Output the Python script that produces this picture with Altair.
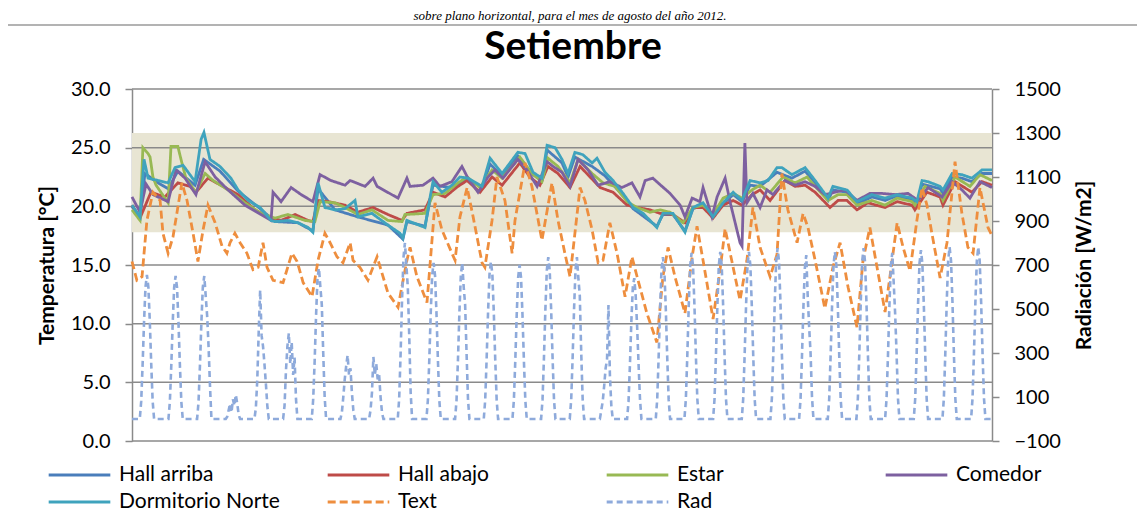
import altair as alt
import pandas as pd

# ---------------- data ----------------
series = ["Hall arriba", "Hall abajo", "Estar", "Comedor", "Dormitorio Norte", "Text", "Rad"]
colors = ["#4A7EBB", "#BE4B48", "#98B954", "#7D60A0", "#3FA3BD", "#EE8E3E", "#8EAADB"]
dash_patterns = [[1, 0], [1, 0], [1, 0], [1, 0], [1, 0], [8, 4], [6, 4]]

title_text = ["Setiembre"]
caption_text = ["sobre plano horizontal, para el mes de agosto del año 2012."]

temp_ticks = [0, 5, 10, 15, 20, 25, 30]
rad_ticks = [-100, 100, 300, 500, 700, 900, 1100, 1300, 1500]

band_low = [17.8]
band_high = [26.25]
band_start = [0]
band_end = [30]

# time in days since 1 September 00:00
blue_t = [0, 0.28, 0.45, 0.91, 1.26, 1.60, 2.20, 2.50, 3.07, 3.70, 4.47, 4.99, 5.79, 6.31, 6.49, 7.08, 7.88, 8.93, 9.45, 9.59,
          10.22, 10.50, 11.16, 11.69, 12.21, 12.49, 12.91, 13.46, 13.99, 14.30, 14.48, 15.00, 15.21, 15.45, 16.05, 16.50, 17.13, 17.48, 18.31, 18.52,
          18.87, 19.29, 19.57, 19.92, 20.27, 20.62, 20.97, 21.28, 21.56, 21.91, 22.50, 23.02, 23.48, 23.83, 24.28, 24.45, 24.94, 25.29, 25.81, 26.27,
          26.69, 27.21, 27.38, 27.56, 28.19, 28.29, 28.61, 28.95, 29.30, 29.65, 30.0]
blue_v = [20.0, 19.0, 22.8, 22.0, 21.5, 23.0, 21.8, 24.0, 23.0, 21.3, 19.8, 18.7, 18.6, 17.9, 21.5, 19.7, 19.1, 18.4, 17.2, 18.7,
          18.3, 21.8, 21.6, 22.3, 21.6, 23.6, 22.6, 24.3, 22.7, 22.2, 24.8, 23.7, 22.5, 24.2, 23.4, 22.6, 20.9, 19.8, 18.3, 19.3,
          19.3, 17.9, 19.8, 20.1, 19.1, 20.2, 21.0, 20.4, 21.8, 21.7, 22.9, 22.4, 23.0, 22.0, 20.5, 21.4, 21.2, 20.2, 20.8, 20.5,
          20.9, 20.5, 20.2, 21.9, 21.5, 21.1, 22.5, 22.4, 22.1, 22.8, 22.8]

red_t = [0, 0.28, 0.66, 1.15, 1.60, 2.02, 2.23, 2.65, 3.10, 3.70, 4.29, 4.74, 5.20, 5.69, 6.14, 6.31, 6.49, 6.84, 7.43, 7.88,
         8.41, 8.93, 9.42, 9.59, 10.22, 10.50, 10.92, 11.37, 11.69, 12.14, 12.56, 12.91, 13.53, 13.88, 14.23, 14.51, 14.86, 15.28, 15.63, 15.98,
         16.33, 16.78, 17.27, 17.62, 18.07, 18.42, 18.87, 19.29, 19.57, 19.92, 20.27, 20.62, 20.97, 21.28, 21.63, 21.91, 22.26, 22.78, 23.13, 23.48,
         23.83, 24.35, 24.63, 24.94, 25.29, 25.67, 26.27, 26.69, 27.21, 27.31, 27.73, 28.19, 28.29, 28.71, 29.30, 29.65, 30.0]
red_v = [20.1, 19.0, 21.2, 20.8, 22.0, 21.7, 21.2, 22.4, 21.8, 21.0, 19.7, 19.1, 18.8, 19.3, 18.8, 18.7, 20.5, 20.4, 20.1, 19.5,
         19.9, 19.3, 18.8, 19.4, 19.7, 21.2, 20.8, 21.7, 22.2, 21.2, 22.5, 21.8, 23.7, 22.5, 21.8, 23.4, 22.8, 21.6, 23.4, 22.5,
         21.6, 21.2, 20.1, 19.9, 19.7, 19.4, 19.3, 18.6, 19.9, 19.9, 19.0, 20.1, 20.5, 20.1, 21.0, 21.4, 20.5, 22.2, 21.7, 21.8,
         21.2, 19.9, 20.5, 20.5, 19.7, 20.3, 19.9, 20.4, 20.1, 19.7, 21.2, 20.8, 20.1, 22.1, 21.2, 22.1, 21.8]

green_t = [0, 0.28, 0.38, 0.56, 0.63, 0.73, 0.84, 1.26, 1.36, 1.60, 1.71, 1.88, 2.23, 2.55, 2.83, 3.35, 3.94, 4.50, 4.99, 5.44,
           6.03, 6.38, 6.56, 7.08, 7.43, 7.88, 8.37, 8.93, 9.42, 9.52, 10.22, 10.50, 10.92, 11.37, 11.69, 12.14, 12.56, 12.91, 13.53, 13.95,
           14.30, 14.51, 14.86, 15.28, 15.56, 16.05, 16.43, 16.85, 17.27, 17.62, 18.07, 18.42, 18.77, 19.22, 19.57, 19.92, 20.27, 20.62, 20.97, 21.28,
           21.63, 21.91, 22.26, 22.71, 23.13, 23.55, 23.83, 24.28, 24.63, 24.94, 25.29, 25.81, 26.27, 26.69, 27.21, 27.31, 27.66, 28.19, 28.29, 28.71,
           29.23, 29.58, 30.0]
green_v = [19.7, 18.8, 25.0, 24.5, 24.2, 22.5, 21.8, 20.3, 25.1, 25.1, 24.0, 22.4, 21.2, 22.8, 22.2, 21.4, 20.3, 19.4, 19.0, 19.3,
           18.8, 18.7, 20.4, 20.3, 19.9, 19.3, 19.7, 18.8, 18.7, 19.3, 19.4, 21.0, 21.1, 22.0, 22.5, 21.6, 23.1, 22.4, 24.2, 22.8,
           22.1, 24.1, 23.4, 22.0, 24.0, 22.8, 22.0, 21.7, 20.4, 19.9, 19.5, 19.7, 19.5, 18.6, 19.9, 20.1, 19.3, 20.7, 21.1, 20.7,
           21.4, 21.8, 21.2, 22.5, 22.0, 22.5, 21.7, 20.5, 21.0, 21.0, 20.1, 20.5, 20.1, 20.7, 20.4, 20.1, 21.7, 21.1, 20.5, 22.5,
           21.7, 22.7, 22.2]

purple_t = [0, 0.28, 0.49, 0.73, 1.26, 1.53, 1.85, 2.23, 2.55, 2.90, 3.35, 3.94, 4.50, 4.85, 4.92, 5.20, 5.55, 5.90, 6.31, 6.56,
            6.94, 7.43, 7.61, 8.13, 8.41, 8.55, 9.28, 9.59, 9.70, 10.15, 10.50, 10.74, 11.16, 11.51, 11.72, 12.07, 12.42, 12.66, 12.94, 13.46,
            13.78, 14.13, 14.48, 14.69, 15.00, 15.28, 15.56, 15.91, 16.26, 16.67, 17.09, 17.44, 17.72, 17.90, 18.17, 18.49, 18.77, 19.12, 19.29, 19.54,
            19.81, 19.92, 20.23, 20.41, 20.69, 20.87, 21.21, 21.28, 21.38, 21.45, 21.66, 21.91, 22.15, 22.36, 22.60, 22.78, 23.13, 23.48, 23.83, 24.17,
            24.52, 24.87, 25.29, 25.74, 26.16, 26.62, 27.07, 27.42, 27.77, 28.26, 28.61, 28.95, 29.23, 29.58, 30.0]
purple_v = [20.8, 19.5, 21.9, 21.0, 20.4, 23.1, 22.4, 21.0, 23.8, 22.5, 21.4, 20.1, 19.3, 18.8, 21.2, 20.4, 21.6, 21.0, 20.4, 22.7,
            22.2, 21.8, 22.2, 21.7, 22.4, 21.7, 20.7, 22.4, 21.7, 21.8, 22.4, 21.7, 22.1, 23.4, 22.4, 21.2, 22.5, 23.1, 22.4, 24.0,
            23.1, 21.7, 23.8, 23.4, 22.9, 21.7, 24.0, 23.1, 21.8, 22.1, 21.6, 22.0, 20.8, 22.2, 22.4, 21.7, 21.1, 20.1, 19.1, 20.7,
            20.4, 21.6, 19.1, 20.8, 22.4, 20.3, 16.9, 16.6, 25.4, 20.3, 21.1, 19.9, 21.4, 21.0, 21.7, 22.2, 21.8, 22.1, 21.7, 21.0,
            21.2, 21.4, 20.5, 21.1, 21.1, 21.0, 21.1, 20.5, 21.6, 20.8, 22.1, 21.4, 20.7, 22.1, 21.6]

teal_t = [0, 0.28, 0.42, 0.56, 0.91, 1.26, 1.50, 1.78, 2.20, 2.41, 2.51, 2.72, 3.07, 3.45, 3.70, 4.05, 4.47, 4.64, 4.85, 4.99,
          5.44, 5.79, 6.14, 6.31, 6.49, 6.73, 7.08, 7.43, 7.78, 7.88, 8.37, 8.93, 9.35, 9.45, 9.59, 10.22, 10.40, 10.50, 10.81, 11.16,
          11.44, 11.72, 12.21, 12.49, 12.91, 13.46, 13.71, 13.99, 14.30, 14.48, 14.76, 15.00, 15.21, 15.45, 15.73, 16.05, 16.22, 16.50, 16.78, 17.13,
          17.48, 17.83, 18.31, 18.52, 18.87, 19.29, 19.57, 19.92, 20.27, 20.62, 20.97, 21.28, 21.56, 21.91, 22.19, 22.50, 22.67, 23.02, 23.48, 23.83,
          24.28, 24.45, 24.94, 25.29, 25.81, 26.27, 26.69, 27.21, 27.38, 27.56, 27.77, 28.19, 28.29, 28.61, 28.95, 29.30, 29.65, 30.0]
teal_v = [20.1, 19.1, 24.0, 22.4, 22.2, 22.0, 23.3, 23.5, 22.1, 25.7, 26.3, 24.0, 23.4, 22.4, 21.4, 20.5, 19.9, 19.4, 18.8, 18.7,
          18.8, 18.6, 18.2, 17.8, 22.0, 19.9, 19.7, 19.8, 20.5, 19.1, 19.4, 18.4, 17.7, 17.3, 18.8, 18.2, 20.8, 22.1, 21.2, 21.8,
          22.5, 22.4, 21.7, 24.1, 22.8, 24.6, 24.5, 22.9, 22.4, 25.2, 25.0, 24.0, 22.8, 24.6, 24.4, 23.7, 24.1, 22.9, 22.2, 21.1,
          19.9, 19.4, 18.2, 19.4, 19.4, 17.8, 19.9, 20.3, 19.1, 20.3, 21.2, 20.5, 22.2, 22.0, 22.2, 23.3, 23.3, 22.7, 23.3, 22.2,
          20.7, 21.7, 21.4, 20.4, 21.0, 20.7, 21.0, 20.7, 20.4, 22.2, 22.1, 21.7, 21.4, 22.8, 22.7, 22.4, 23.1, 23.1]

text_t = [0, 0.17, 0.35, 0.52, 0.73, 0.98, 1.08, 1.26, 1.43, 1.74, 1.92, 2.13, 2.30, 2.48, 2.65, 2.90, 3.14, 3.31, 3.42, 3.59,
          3.77, 4.01, 4.22, 4.40, 4.57, 4.71, 4.92, 5.27, 5.58, 5.76, 5.97, 6.28, 6.49, 6.73, 6.91, 7.15, 7.36, 7.61, 7.71, 7.95,
          8.23, 8.55, 8.93, 9.28, 9.59, 9.70, 9.94, 10.29, 10.57, 10.81, 11.16, 11.27, 11.44, 11.69, 11.90, 12.21, 12.31, 12.56, 12.73, 13.01,
          13.26, 13.36, 13.71, 13.95, 14.30, 14.65, 14.86, 15.10, 15.28, 15.63, 15.80, 16.05, 16.26, 16.43, 16.67, 16.92, 17.20, 17.44, 17.62, 17.96,
          18.31, 18.52, 18.70, 18.94, 19.29, 19.54, 19.71, 19.92, 20.27, 20.51, 20.69, 20.97, 21.21, 21.45, 21.66, 21.91, 22.26, 22.50, 22.67, 22.88,
          23.20, 23.41, 23.58, 23.83, 24.17, 24.45, 24.70, 24.98, 25.29, 25.50, 25.74, 25.99, 26.27, 26.44, 26.69, 26.90, 27.14, 27.38, 27.56, 27.73,
          27.91, 28.19, 28.43, 28.71, 28.95, 29.16, 29.34, 29.58, 29.86, 30.0]
text_v = [15.3, 13.7, 14.0, 18.8, 21.2, 20.5, 17.7, 16.0, 17.4, 22.0, 20.5, 17.7, 15.3, 18.0, 20.1, 18.6, 16.6, 16.0, 16.9, 17.7,
          16.9, 16.0, 14.6, 14.8, 16.9, 14.8, 13.7, 13.5, 16.0, 15.3, 13.5, 12.3, 15.4, 17.7, 16.9, 15.7, 15.2, 16.9, 15.4, 14.8,
          13.7, 15.7, 12.6, 11.4, 15.4, 16.5, 14.0, 11.8, 20.3, 18.0, 16.0, 15.4, 19.1, 21.6, 19.1, 15.2, 14.8, 18.8, 22.5, 20.5,
          16.0, 18.8, 23.7, 21.7, 17.1, 22.0, 18.8, 16.0, 14.0, 21.6, 20.5, 18.0, 15.2, 15.4, 18.6, 16.0, 12.3, 15.7, 14.0, 10.9,
          8.4, 14.0, 16.5, 14.0, 10.9, 15.7, 18.3, 15.4, 10.4, 14.5, 18.1, 14.8, 12.0, 15.4, 19.9, 16.5, 14.0, 15.9, 22.8, 19.7,
          16.9, 19.4, 18.2, 15.4, 11.3, 14.8, 16.9, 13.1, 9.7, 15.4, 18.2, 14.8, 11.0, 14.0, 18.6, 16.5, 14.5, 18.8, 21.6, 20.1,
          17.6, 13.9, 16.9, 23.8, 19.4, 16.5, 16.0, 21.6, 18.2, 17.5]

# solar radiation (W/m2): hours of each daily reading, one list per day
rad_hours = [6.5, 7.7, 8.9, 10.1, 11.3, 12.5, 13.7, 14.9, 16.1, 17.3, 18.5]
rad_days = [
    [0, 80, 250, 445, 600, 655, 600, 445, 250, 80, 0],
    [0, 78, 245, 440, 598, 650, 598, 440, 245, 78, 0],
    [0, 78, 245, 440, 600, 650, 560, 470, 330, 150, 0],
    [0, 10, 40, 70, 30, 90, 60, 110, 70, 20, 0],
    [0, 50, 180, 400, 586, 380, 330, 250, 160, 60, 0],
    [0, 60, 220, 330, 390, 250, 350, 200, 280, 90, 0],
    [0, 90, 260, 470, 640, 686, 600, 520, 300, 100, 0],
    [0, 30, 100, 180, 240, 290, 200, 230, 120, 40, 0],
    [0, 40, 120, 282, 200, 250, 180, 200, 100, 30, 0],
    [0, 95, 300, 545, 735, 800, 700, 600, 380, 120, 0],
    [0, 85, 270, 483, 653, 710, 653, 483, 270, 85, 0],
    [0, 85, 270, 483, 653, 710, 600, 520, 300, 90, 0],
    [0, 86, 272, 486, 658, 715, 658, 486, 272, 86, 0],
    [0, 84, 266, 476, 644, 700, 644, 476, 266, 84, 0],
    [0, 88, 280, 500, 677, 736, 677, 500, 280, 88, 0],
    [0, 88, 280, 500, 677, 736, 640, 560, 300, 90, 0],
    [0, 0, 40, 80, 150, 230, 270, 518, 200, 60, 0],
    [0, 80, 250, 450, 600, 640, 560, 420, 250, 90, 0],
    [0, 88, 280, 500, 677, 736, 677, 500, 280, 88, 0],
    [0, 91, 287, 513, 695, 755, 695, 513, 287, 91, 0],
    [0, 91, 289, 517, 699, 760, 699, 517, 289, 91, 0],
    [0, 91, 289, 517, 699, 760, 699, 517, 289, 91, 0],
    [0, 93, 295, 528, 715, 777, 715, 528, 295, 93, 0],
    [0, 89, 283, 507, 685, 745, 560, 420, 300, 100, 0],
    [0, 91, 289, 517, 699, 760, 699, 517, 289, 91, 0],
    [0, 93, 295, 528, 715, 777, 715, 528, 295, 93, 0],
    [0, 91, 287, 513, 695, 755, 620, 480, 300, 91, 0],
    [0, 92, 292, 522, 707, 768, 707, 522, 292, 92, 0],
    [0, 94, 297, 532, 719, 782, 719, 532, 297, 94, 0],
    [0, 94, 297, 532, 719, 782, 719, 532, 297, 94, 0],
]
rad_start = [0.0, 0]   # (day, value) at the start of the month
rad_end = [30.0, 0]    # (day, value) at the end of the month

# ---------------- tables ----------------
temp_rows = []
for name, ts, vs in [("Hall arriba", blue_t, blue_v), ("Hall abajo", red_t, red_v),
                     ("Estar", green_t, green_v), ("Comedor", purple_t, purple_v),
                     ("Dormitorio Norte", teal_t, teal_v), ("Text", text_t, text_v)]:
    assert len(ts) == len(vs), (name, len(ts), len(vs))
    for t, v in zip(ts, vs):
        temp_rows.append({"t": t, "v": v, "serie": name})
temp_df = pd.DataFrame(temp_rows)

rad_rows = [{"t": rad_start[0], "v": rad_start[1], "serie": "Rad"}]
for d, vals in enumerate(rad_days):
    assert len(vals) == len(rad_hours)
    for h, v in zip(rad_hours, vals):
        rad_rows.append({"t": d + h / 24.0, "v": v, "serie": "Rad"})
rad_rows.append({"t": rad_end[0], "v": rad_end[1], "serie": "Rad"})
rad_df = pd.DataFrame(rad_rows)

band_df = pd.DataFrame({"t0": band_start, "t1": band_end, "lo": band_low, "hi": band_high})
grid_df = pd.DataFrame({"g": temp_ticks})
title_df = pd.DataFrame({"txt": title_text})
caption_df = pd.DataFrame({"txt": caption_text})

# ---------------- encodings ----------------
FONT = "Lato"
GREY = "#8A8A8A"
W, H = 860, 352

x_scale = alt.Scale(domain=[0, 30], nice=False, zero=False)
yT_scale = alt.Scale(domain=[0, 30], nice=False, zero=False)
yR_scale = alt.Scale(domain=[-100, 1500], nice=False, zero=False)

yT_axis = alt.Axis(title="Temperatura [°C]", values=temp_ticks, format=".1f", grid=False,
                   domainColor=GREY, domainWidth=1.5, tickColor=GREY, tickWidth=1.5, tickSize=7,
                   labelFont=FONT, labelFontSize=20, labelColor="black", labelPadding=15,
                   titleFont=FONT, titleFontSize=21, titleFontWeight="bold", titleColor="black",
                   titleX=-85, titleY=H / 2, titleAlign="center", titleBaseline="middle", titleAngle=270)
yR_axis = alt.Axis(title="Radiación [W/m2]", orient="right", values=rad_ticks, format="d", grid=False,
                   domainColor=GREY, domainWidth=1.5, tickColor=GREY, tickWidth=1.5, tickSize=7,
                   labelFont=FONT, labelFontSize=20, labelColor="black", labelPadding=15,
                   titleFont=FONT, titleFontSize=21, titleFontWeight="bold", titleColor="black",
                   titleX=92, titleY=H / 2, titleAlign="center", titleBaseline="middle", titleAngle=270)

legend = alt.Legend(title=None, orient="none", legendX=-85, legendY=375, direction="horizontal",
                    columns=4, symbolType="stroke", symbolSize=3800, symbolStrokeWidth=3,
                    labelFont=FONT, labelFontSize=21, labelColor="black", labelOffset=7,
                    clipHeight=22, rowPadding=5, columnPadding=46, gridAlign="all", labelLimit=400)

color_enc = alt.Color("serie:N", scale=alt.Scale(domain=series, range=colors), legend=legend)
dash_enc = alt.StrokeDash("serie:N", scale=alt.Scale(domain=series, range=dash_patterns), legend=legend)

band = alt.Chart(band_df).mark_rect(color="#E8E5D3").encode(
    x=alt.X("t0:Q", scale=x_scale, axis=None), x2="t1:Q",
    y=alt.Y("lo:Q", scale=yT_scale, axis=yT_axis), y2="hi:Q")

grid = alt.Chart(grid_df).mark_rule(color=GREY, strokeWidth=1.5).encode(
    y=alt.Y("g:Q", scale=yT_scale, axis=yT_axis))

temps = alt.Chart(temp_df).mark_line(strokeWidth=2.8).encode(
    x=alt.X("t:Q", scale=x_scale, axis=None),
    y=alt.Y("v:Q", scale=yT_scale, axis=yT_axis),
    color=color_enc, strokeDash=dash_enc)

rad = alt.Chart(rad_df).mark_line(strokeWidth=2.6).encode(
    x=alt.X("t:Q", scale=x_scale, axis=None),
    y=alt.Y("v:Q", scale=yR_scale, axis=yR_axis),
    color=color_enc, strokeDash=dash_enc)

title_mark = alt.Chart(title_df).mark_text(font=FONT, fontSize=39, fontWeight="bold", color="black",
                                            align="center", baseline="alphabetic").encode(
    text="txt:N", x=alt.value(441), y=alt.value(-30))

caption_mark = alt.Chart(caption_df).mark_text(font="Liberation Serif", fontSize=13, fontStyle="italic",
                                                color="black", align="center", baseline="alphabetic").encode(
    text="txt:N", x=alt.value(438), y=alt.value(-69))

frame_top = alt.Chart(title_df).mark_rule(color="#9A9A9A", strokeWidth=1.5).encode(
    x=alt.value(-124), x2=alt.value(1013), y=alt.value(-64))

left = alt.layer(band, grid, temps)
chart = alt.layer(left, rad, title_mark, caption_mark, frame_top).resolve_scale(y="independent").properties(
    width=W, height=H,
    padding={"left": 124, "top": 81, "right": 145, "bottom": 70},
    autosize=alt.AutoSizeParams(type="none"),
).configure(font=FONT).configure_view(stroke=None)

chart.save("out.html", embed_options={"renderer": "svg", "actions": False})
